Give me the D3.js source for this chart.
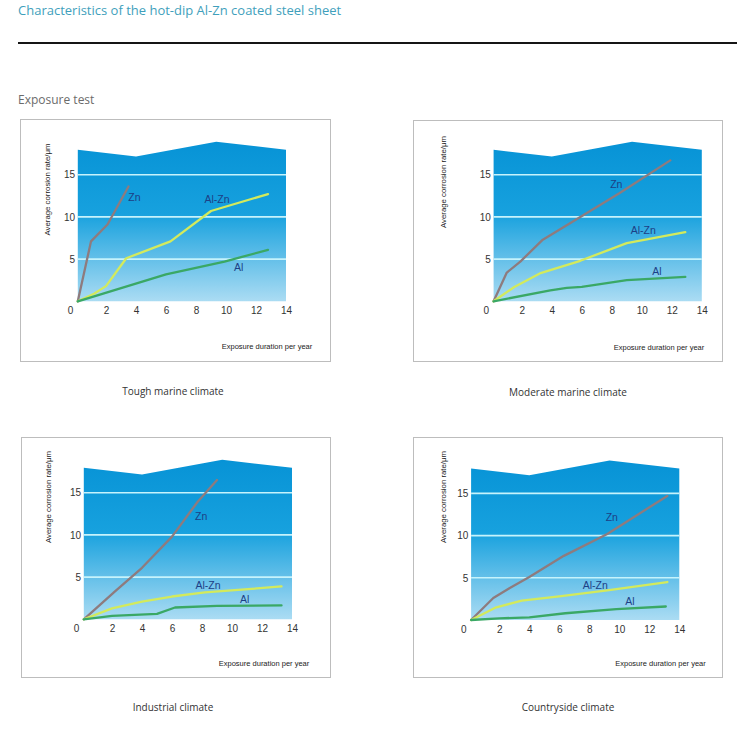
<!DOCTYPE html>
<html><head><meta charset="utf-8">
<script src="https://cdn.jsdelivr.net/npm/d3@7"></script>
<style>
html,body{margin:0;padding:0;background:#fff;}
svg{display:block;}
</style></head>
<body>
<svg id="c" width="750" height="738"></svg>
<script>
// ---------- data ----------
const panelNames = ["Tough marine climate","Moderate marine climate","Industrial climate","Countryside climate"];
const seriesNames = ["Zn","Al-Zn","Al"];
const xTicks = [0,2,4,6,8,10,12,14];
const yTicks = [5,10,15];
// background "skyline" shape of the plot area (year, value)
const skyline = [[0.12,17.95],[4,17.15],[9.35,18.9],[14,17.95]];

const znTough   = [[0.12,0],[1,7.1],[2.1,9.1],[3.5,13.6]];
const alznTough = [[0.12,0],[1.2,0.9],[2,1.8],[3.35,5.1],[6.3,7.1],[9,10.7],[12.8,12.7]];
const alTough   = [[0.12,0],[6,3.2],[9.9,4.7],[12.8,6.1]];

const znModerate   = [[0.12,0],[1,3.4],[1.9,4.7],[3.4,7.3],[5.9,10],[8.5,12.8],[11.9,16.7]];
const alznModerate = [[0.12,0],[1.5,1.7],[3.2,3.3],[5.9,4.8],[9,6.9],[12.9,8.2]];
const alModerate   = [[0.12,0],[3.9,1.3],[5,1.6],[6,1.7],[9,2.5],[12.9,2.9]];

const znIndustrial   = [[0.12,0],[2.2,3.3],[4,6.1],[6,9.8],[7.7,13.9],[9,16.5]];
const alznIndustrial = [[0.12,0],[2,1.3],[4,2.1],[6,2.7],[8.2,3.2],[11.3,3.6],[13.3,3.9]];
const alIndustrial   = [[0.12,0],[2,0.4],[5,0.65],[6.2,1.4],[9,1.6],[13.3,1.65]];

const znCountry   = [[0.12,0],[1.6,2.6],[2.7,3.8],[4,5.1],[6.3,7.6],[9.2,10.2],[13.2,14.7]];
const alznCountry = [[0.12,0],[1.8,1.5],[3.5,2.3],[6,2.8],[9.2,3.5],[13.2,4.5]];
const alCountry   = [[0.12,0],[2,0.2],[4,0.3],[6.4,0.8],[9.8,1.3],[13.1,1.6]];

// series label anchors (year, value) for Zn, Al-Zn, Al
const labelsTough      = [[3.9,12.3],[9.4,12.1],[10.85,4.06]];
const labelsModerate   = [[8.3,13.9],[10.1,8.4],[11.0,3.5]];
const labelsIndustrial = [[7.95,12.2],[8.4,4.0],[10.85,2.37]];
const labelsCountry    = [[9.5,12.2],[8.4,4.15],[10.7,2.17]];

const panelSeries = [
  [znTough, alznTough, alTough],
  [znModerate, alznModerate, alModerate],
  [znIndustrial, alznIndustrial, alIndustrial],
  [znCountry, alznCountry, alCountry]
];
const panelLabels = [labelsTough, labelsModerate, labelsIndustrial, labelsCountry];

// ---------- layout (pixels) ----------
const layout = [
  {frame:[20,119,330,361], ox:76,    oy:301.3, yt:[47,189.5],  xt:[267,346],   cap:[173,391]},
  {frame:[413,120,722,361], ox:491.8, oy:301.3, yt:[443,182],   xt:[659,347],   cap:[568,392]},
  {frame:[21,437,330,677], ox:82,    oy:619.3, yt:[48,497],    xt:[264,663],   cap:[173,707]},
  {frame:[413,437,722,677], ox:469.3, oy:620,   yt:[443,497],   xt:[660.5,663], cap:[568,707]}
];
const pxYear = 15, pxUnit = 8.44;
const lineColors = ["#8e7b7e","#d3ea5c","#3aa865"];

const svg = d3.select("#c");
const defs = svg.append("defs");
const grad = defs.append("linearGradient").attr("id","bg").attr("x1",0).attr("y1",0).attr("x2",0).attr("y2",1);
grad.append("stop").attr("offset","0%").attr("stop-color","#0793d6");
grad.append("stop").attr("offset","45%").attr("stop-color","#17a1de");
grad.append("stop").attr("offset","100%").attr("stop-color","#abdcf3");

// header
svg.append("text").attr("x",18).attr("y",15)
  .attr("font-family","'Open Sans', 'Noto Sans', sans-serif").attr("font-size",13)
  .attr("fill","#3f9fbc").text("Characteristics of the hot-dip Al-Zn coated steel sheet");
svg.append("line").attr("x1",18).attr("x2",737).attr("y1",43).attr("y2",43)
  .attr("stroke","#151515").attr("stroke-width",2);
svg.append("text").attr("x",18).attr("y",104)
  .attr("font-family","'Open Sans', 'Noto Sans', sans-serif").attr("font-size",12)
  .attr("fill","#6b6b6b").text("Exposure test");

layout.forEach((L, i) => {
  const g = svg.append("g");
  const [fx0,fy0,fx1,fy1] = L.frame;
  g.append("rect").attr("x",fx0+0.5).attr("y",fy0+0.5).attr("width",fx1-fx0).attr("height",fy1-fy0)
    .attr("fill","#fff").attr("stroke","#bdbdbd").attr("stroke-width",1);

  const x = d3.scaleLinear().domain([0,14]).range([L.ox, L.ox + 14*pxYear]);
  const y = d3.scaleLinear().domain([0,15]).range([L.oy, L.oy - 15*pxUnit]);

  // background area
  const area = d3.area().x(d=>x(d[0])).y0(y(0)).y1(d=>y(d[1]));
  g.append("path").datum(skyline).attr("d",area).attr("fill","url(#bg)");

  // gridlines
  g.selectAll(".grid").data(yTicks).join("line")
    .attr("x1",x(skyline[0][0])).attr("x2",x(14))
    .attr("y1",d=>y(d)).attr("y2",d=>y(d))
    .attr("stroke","#c6f3fc").attr("stroke-width",1.6);

  // y axis labels
  const yAxis = d3.axisLeft(y).tickValues(yTicks).tickSize(0).tickPadding(1);
  const ya = g.append("g").attr("transform",`translate(${L.ox},0)`).call(yAxis);
  ya.select(".domain").remove();
  ya.selectAll("text").attr("font-family","'Liberation Sans', Arial, sans-serif").attr("font-size",10).attr("fill","#333");

  // x axis labels
  const xAxis = d3.axisBottom(x).tickValues(xTicks).tickSize(0).tickPadding(6);
  const xa = g.append("g").attr("transform",`translate(0,${L.oy})`).call(xAxis);
  xa.select(".domain").remove();
  xa.selectAll("text").attr("font-family","'Liberation Sans', Arial, sans-serif").attr("font-size",10).attr("fill","#333")
    .attr("dx", d => d===0 ? -6 : 0);

  // lines
  const line = d3.line().x(d=>x(d[0])).y(d=>y(d[1]));
  panelSeries[i].forEach((s, k) => {
    g.append("path").datum(s).attr("d",line).attr("fill","none")
      .attr("stroke",lineColors[k]).attr("stroke-width",2.3).attr("stroke-linejoin","round").attr("stroke-linecap","round");
  });
  // series labels
  panelLabels[i].forEach((p, k) => {
    g.append("text").attr("x",x(p[0])).attr("y",y(p[1])).attr("dy","0.35em")
      .attr("text-anchor","middle").attr("font-family","'Liberation Sans', Arial, sans-serif")
      .attr("font-size",10.5).attr("fill","#1d3f86").text(seriesNames[k]);
  });

  // axis titles
  g.append("text").attr("transform",`translate(${L.yt[0]},${L.yt[1]}) rotate(-90)`)
    .attr("text-anchor","middle").attr("dy","0.35em")
    .attr("font-family","'Liberation Sans', Arial, sans-serif").attr("font-size",7.5)
    .attr("textLength",92).attr("lengthAdjust","spacingAndGlyphs")
    .attr("fill","#222").text("Average corrosion rate/μm");
  g.append("text").attr("x",L.xt[0]).attr("y",L.xt[1]).attr("dy","0.35em")
    .attr("text-anchor","middle").attr("font-family","'Liberation Sans', Arial, sans-serif").attr("font-size",7.5)
    .attr("fill","#222").text("Exposure duration per year");

  // caption
  svg.append("text").attr("x",L.cap[0]).attr("y",L.cap[1]).attr("dy","0.35em")
    .attr("text-anchor","middle").attr("font-family","'Open Sans', 'Noto Sans', sans-serif").attr("font-size",10)
    .attr("fill","#333").text(panelNames[i]);
});
</script>
</body></html>
